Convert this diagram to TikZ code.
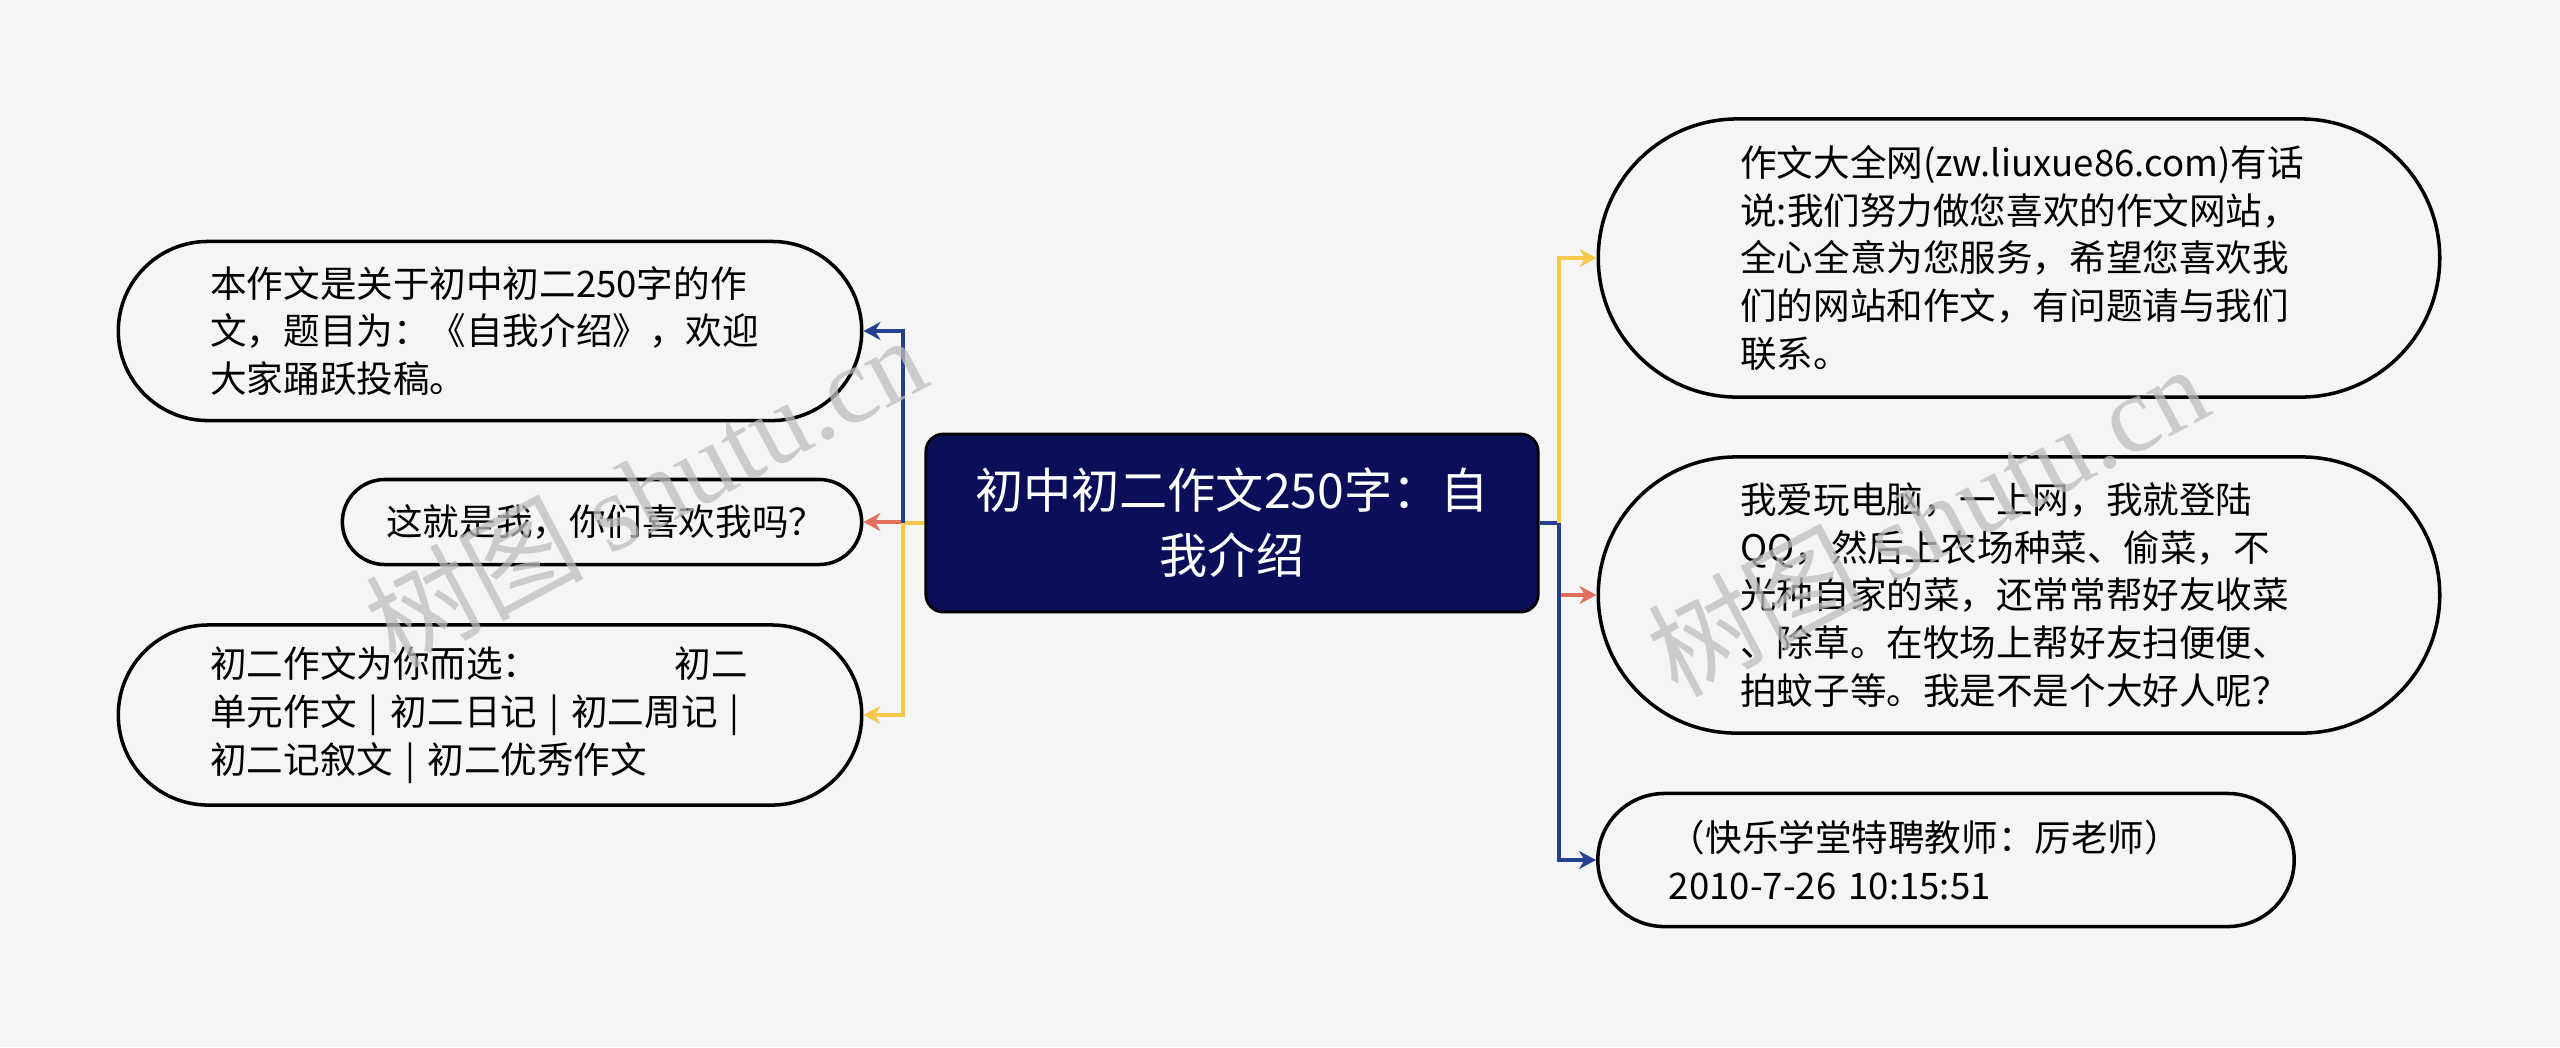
\documentclass[tikz,border=0pt]{standalone}
\usepackage{fontspec}
\setmainfont{Noto Sans CJK SC}
\newfontfamily\wmfont{Liberation Serif}
\usepackage{xcolor}
\usetikzlibrary{arrows.meta}

\definecolor{bgcol}{HTML}{F5F5F5}
\definecolor{titlefill}{HTML}{0B0F59}
\definecolor{lineblue}{HTML}{24418F}
\definecolor{linered}{HTML}{E0705C}
\definecolor{lineyellow}{HTML}{F6C74A}
\definecolor{wmgray}{HTML}{BDBDBD}

\tikzset{
  bubble/.style={draw, line width=1pt, fill=bgcol, align=left, text width=#1, inner xsep=0pt, inner ysep=3pt, font=\fontsize{10.4pt}{13.6pt}\selectfont},
  branch/.style={line width=0.9pt},
  wmark/.style={rotate=28, text=wmgray, opacity=0.75, font=\fontsize{31pt}{31pt}\selectfont},
}

\begin{document}
\begin{tikzpicture}[x=0.01cm, y=-0.01cm, >={Stealth[length=1.7mm, width=1.8mm]}]
  \fill[bgcol] (0,0) rectangle (2560,1047);
  \useasboundingbox (0,0) rectangle (2560,1047);

  % centre
  \node[draw=black, line width=0.8pt, fill=titlefill, rounded corners=5pt, minimum width=6.12cm, minimum height=1.78cm, align=center, text=white, font=\fontsize{13.7pt}{18.5pt}\selectfont] (title) at (1232,523) {初中初二作文250字：自\\我介绍};

  % left side
  \node[bubble=5.59cm, minimum width=7.43cm, minimum height=1.79cm, rounded corners=0.895cm] (left1) at (490,331) {本作文是关于初中初二250字的作\\文，题目为：《自我介绍》，欢迎\\大家踊跃投稿。};
  \node[bubble=4.31cm, minimum width=5.19cm, minimum height=0.85cm, rounded corners=0.425cm] (left2) at (602,522) {这就是我，你们喜欢我吗？};
  \node[bubble=5.59cm, minimum width=7.43cm, minimum height=1.80cm, rounded corners=0.9cm] (left3) at (490,715) {初二作文为你而选：\hspace{1.35cm}初二\\单元作文 | 初二日记 | 初二周记 |\\初二记叙文 | 初二优秀作文};

  % right side
  \node[bubble=5.57cm, minimum width=8.41cm, minimum height=2.78cm, rounded corners=1.39cm] (right1) at (2019,258) {作文大全网(zw.liuxue86.com)有话\\说:我们努力做您喜欢的作文网站，\\全心全意为您服务，希望您喜欢我\\们的网站和作文，有问题请与我们\\联系。};
  \node[bubble=5.57cm, minimum width=8.41cm, minimum height=2.76cm, rounded corners=1.38cm] (right2) at (2019,595) {我爱玩电脑，一上网，我就登陆\\QQ，然后上农场种菜、偷菜，不\\光种自家的菜，还常常帮好友收菜\\、除草。在牧场上帮好友扫便便、\\拍蚊子等。我是不是个大好人呢？};
  \node[bubble=5.54cm, minimum width=6.96cm, minimum height=1.33cm, rounded corners=0.665cm] (right3) at (1946,860) {（快乐学堂特聘教师：厉老师）\\2010-7-26 10:15:51};

  % connectors
  \coordinate (lhub) at (903,523);
  \coordinate (rhub) at (1559,523);
  \draw[branch, lineyellow] (title.west) -- (lhub);
  \draw[branch, linered, ->] (lhub) |- (left2.east);
  \draw[branch, lineblue, ->] (lhub) |- (left1.east);
  \draw[branch, lineyellow, ->] (lhub) |- (left3.east);
  \draw[branch, lineblue] (title.east) -- (rhub);
  \draw[branch, lineyellow, ->] (rhub) |- (right1.west);
  \draw[branch, linered, ->] (rhub) |- (right2.west);
  \draw[branch, lineblue, ->] (rhub) |- (right3.west);

  % watermarks
  \node[wmark] (mark1) at (645,490) {树图 {\wmfont shutu.cn}};
  \node[wmark] (mark2) at (1927,519) {树图 {\wmfont shutu.cn}};
\end{tikzpicture}
\end{document}
